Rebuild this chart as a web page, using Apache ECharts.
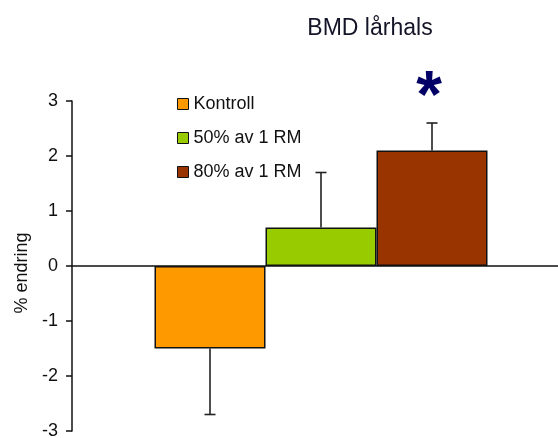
<!DOCTYPE html>
<html>
<head>
<meta charset="utf-8">
<script src="https://cdn.jsdelivr.net/npm/echarts@6/dist/echarts.min.js"></script>
<style>
  html, body { margin: 0; padding: 0; background: #fff; }
  #chart { width: 558px; height: 438px; }
</style>
</head>
<body>
<div id="chart"></div>
<script>
// Mean percentage change in femoral neck BMD per group, with one-sided SD bars
const groups = ['Kontroll', '50% av 1 RM', '80% av 1 RM'];
const means = [-1.5, 0.7, 2.1];
const errors = [1.2, 1.0, 0.5];
const significance = ['', '', '*'];
const colors = ['#FF9900', '#99CC00', '#993300'];
const yTicks = { min: -3, max: 3, interval: 1 };
const category = ['BMD lårhals'];
const chartTitle = 'BMD lårhals';

const BAR_W = 111;
const FONT = '"Liberation Sans", Arial, sans-serif';

const barSeries = groups.map((name, i) => ({
  type: 'bar',
  name: name,
  data: [means[i]],
  barWidth: BAR_W,
  barGap: '0%',
  itemStyle: { color: colors[i], borderColor: '#111', borderWidth: 1.5 },
  emphasis: { disabled: true }
}));

const errorSeries = {
  type: 'custom',
  name: 'sd',
  data: groups.map((g, i) => [0, means[i], errors[i], i]),
  renderItem: function (params, api) {
    const i = api.value(3);
    const mean = api.value(1);
    const err = api.value(2);
    const end = mean < 0 ? mean - err : mean + err;
    const base = api.coord([0, mean]);
    const tip = api.coord([0, end]);
    const x = base[0] + (i - (groups.length - 1) / 2) * BAR_W;
    const cap = 5.5;
    const style = { stroke: '#222', lineWidth: 1.6 };
    const children = [
      { type: 'line', shape: { x1: x, y1: base[1], x2: x, y2: tip[1] }, style: style },
      { type: 'line', shape: { x1: x - cap, y1: tip[1], x2: x + cap, y2: tip[1] }, style: style }
    ];
    const mark = significance[i];
    if (mark) {
      children.push({
        type: 'text',
        style: {
          text: mark,
          x: x - 3,
          y: tip[1] - 24,
          align: 'center',
          verticalAlign: 'middle',
          fill: '#000066',
          font: 'bold 66px ' + FONT
        }
      });
    }
    return { type: 'group', children: children };
  },
  z: 5,
  silent: true
};

const chart = echarts.init(document.getElementById('chart'));
chart.setOption({
  animation: false,
  backgroundColor: '#ffffff',
  textStyle: { fontFamily: FONT },
  graphic: [{
    type: 'text',
    x: 370,
    y: 29,
    style: {
      text: chartTitle,
      align: 'center',
      verticalAlign: 'middle',
      fill: '#141428',
      font: '23px ' + FONT
    }
  }],
  legend: {
    data: groups,
    orient: 'vertical',
    left: 177,
    top: 95,
    padding: 0,
    itemWidth: 11,
    itemHeight: 11,
    itemGap: 16,
    icon: 'rect',
    selectedMode: false,
    itemStyle: { borderColor: '#111', borderWidth: 1 },
    textStyle: { fontSize: 18, color: '#111', fontFamily: FONT, lineHeight: 18 }
  },
  grid: { left: 72, width: 498, top: 101, bottom: 7, containLabel: false, outerBoundsMode: 'none' },
  xAxis: {
    type: 'category',
    data: category,
    axisLine: { show: true, onZero: true, lineStyle: { color: '#111', width: 1.5 } },
    axisTick: { show: false },
    axisLabel: { show: false },
    splitLine: { show: false }
  },
  yAxis: {
    type: 'value',
    min: yTicks.min,
    max: yTicks.max,
    interval: yTicks.interval,
    name: '% endring',
    nameLocation: 'middle',
    nameGap: 24,
    nameTextStyle: { fontSize: 18, color: '#111', fontFamily: FONT, padding: [0, 14, 0, 0] },
    axisLine: { show: true, lineStyle: { color: '#111', width: 1.5 } },
    axisTick: { show: true, length: 6, inside: false, lineStyle: { color: '#111', width: 1.5 } },
    axisLabel: { fontSize: 18, color: '#111', margin: 14, fontFamily: FONT },
    splitLine: { show: false }
  },
  series: barSeries.concat([errorSeries])
});
</script>
</body>
</html>
